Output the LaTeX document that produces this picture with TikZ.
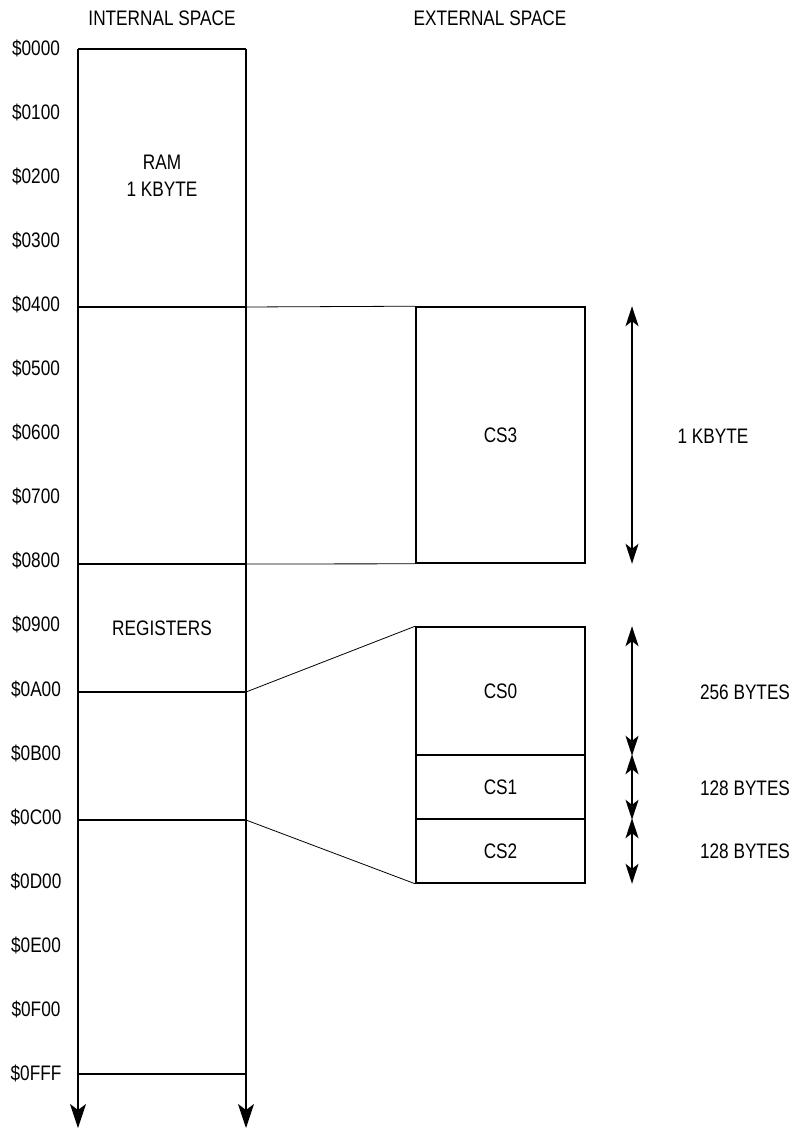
\documentclass[tikz,border=0pt]{standalone}
\usepackage{fontspec}
\setmainfont{Liberation Sans}[FakeStretch=0.82]
\usetikzlibrary{arrows.meta}

\begin{document}
\begin{tikzpicture}[x=1pt,y=-1pt,font=\fontsize{21}{27}\selectfont,
  mapline/.style={line width=1.6pt},
  linkline/.style={line width=0.8pt},
  downarrow/.style={mapline,-{Stealth[length=24pt,width=16pt,inset=6pt]}},
  sizearrow/.style={mapline,{Stealth[length=20pt,width=13pt,inset=5pt]}-{Stealth[length=20pt,width=13pt,inset=5pt]}},
  membox/.style={draw,mapline,minimum width=169pt,inner sep=0pt}]
  \useasboundingbox (0,0) rectangle (798,1131);
  \def\il{78}\def\ir{246}\def\row{64.1}\def\ax{632}
  % headers
  \node (ihead) at (162,18) {INTERNAL SPACE};
  \node (ehead) at (490,18) {EXTERNAL SPACE};
  % address labels
  \foreach \lbl [count=\i from 0] in {0000,0100,0200,0300,0400,0500,0600,0700,0800,0900,0A00,0B00,0C00,0D00,0E00,0F00,0FFF}
    \node (addr\i) at (36,48+\i*\row) {\$\lbl};
  % internal space column
  \coordinate (itl) at (\il,49);
  \coordinate (itr) at (\ir,49);
  \draw[downarrow] (itl) -- (\il,1128);
  \draw[downarrow] (itr) -- (\ir,1128);
  \draw[mapline] (itl) -- (itr);
  \foreach \n/\y in {4/307,8/564,10/692,12/820,16/1074} {
    \coordinate (l\n) at (\il,\y);
    \coordinate (r\n) at (\ir,\y);
    \draw[mapline] (l\n) -- (r\n);
  }
  \node[align=center] (ram) at (162,176) {RAM\\1 KBYTE};
  \node (regs) at (162,628) {REGISTERS};
  % external space
  \node[membox,minimum height=256pt] (cs3) at (500.5,435) {CS3};
  \node[membox,minimum height=128pt] (cs0) at (500.5,691) {CS0};
  \node[membox,minimum height=64pt] (cs1) at (500.5,787) {CS1};
  \node[membox,minimum height=64pt] (cs2) at (500.5,851) {CS2};
  \draw[linkline] (r4) -- (cs3.north west);
  \draw[linkline] (r8) -- (cs3.south west);
  \draw[linkline] (r10) -- (cs0.north west);
  \draw[linkline] (r12) -- (cs2.south west);
  % sizes
  \draw[sizearrow] (cs3.north east -| \ax,0) -- (cs3.south east -| \ax,0);
  \draw[sizearrow] (cs0.north east -| \ax,0) -- (cs0.south east -| \ax,0);
  \draw[sizearrow] (cs1.north east -| \ax,0) -- (cs1.south east -| \ax,0);
  \draw[sizearrow] (cs2.north east -| \ax,0) -- (cs2.south east -| \ax,0);
  \node (size3) at (713,436) {1 KBYTE};
  \node (size0) at (745,692) {256 BYTES};
  \node (size1) at (745,788) {128 BYTES};
  \node (size2) at (745,851) {128 BYTES};
\end{tikzpicture}
\end{document}
